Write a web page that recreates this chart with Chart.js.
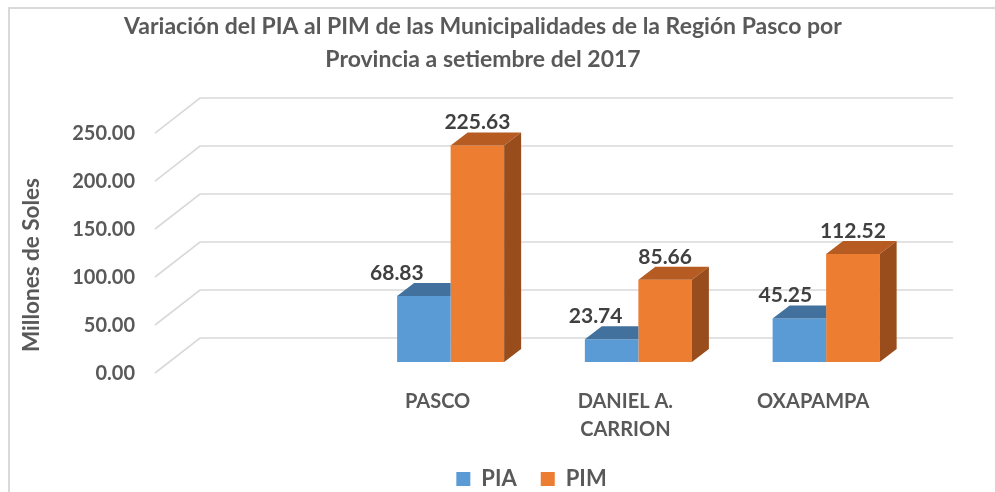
<!DOCTYPE html>
<html>
<head>
<meta charset="utf-8">
<script src="https://cdn.jsdelivr.net/npm/chart.js@4.4.1/dist/chart.umd.min.js"></script>
<style>
  html, body { margin: 0; padding: 0; background: #fff; }
  #wrap { width: 995px; height: 492px; }
</style>
</head>
<body>
<div id="wrap"><canvas id="chart" width="995" height="492"></canvas></div>
<script>
// data (first category is empty in the original sheet)
const categories = ['', 'PASCO', ['DANIEL A.', 'CARRION'], 'OXAPAMPA'];
const piaValues = [null, 68.83, 23.74, 45.25];
const pimValues = [null, 225.63, 85.66, 112.52];
const yTicks = [0, 50, 100, 150, 200, 250];
const titleLines = ['Variación del PIA al PIM de las Municipalidades de la Región Pasco por', 'Provincia a setiembre del 2017'];
const yTitle = 'Millones de Soles';

const FONT = 'Lato, "Open Sans", sans-serif';
const TEXT = '#595959';

// fake 3D offsets, relative to the plane the bars stand in
const floorFront = {dx: -14, dy: 11};
const floorBack = {dx: 31, dy: -24};
const barDepth = {dx: 17, dy: -13};
// Excel nudged the PIA labels left so they clear the PIM bars
const piaLabelShift = [0, -27, -16, -14];
const legendShift = -13;

const scene3d = {
  id: 'scene3d',
  beforeDraw(chart) {
    const ctx = chart.ctx;
    ctx.save();
    ctx.fillStyle = '#fff';
    ctx.fillRect(0, 0, chart.width, chart.height);
    ctx.strokeStyle = '#d9d9d9';
    ctx.lineWidth = 2;
    ctx.strokeRect(9, 8, chart.width + 20, chart.height + 20);
    ctx.restore();
  },
  afterLayout(chart) {
    // legend sits a bit left of the plot centre in the original
    chart.legend.left += legendShift;
    chart.legend.right += legendShift;
  },
  beforeDatasetsDraw(chart) {
    const {ctx, chartArea: a, scales: {y}} = chart;
    ctx.save();
    ctx.strokeStyle = '#d9d9d9';
    ctx.lineWidth = 1.6;
    y.ticks.forEach(t => {
      const py = y.getPixelForValue(t.value);
      ctx.beginPath();
      ctx.moveTo(a.left + floorFront.dx, py + floorFront.dy);
      ctx.lineTo(a.left + floorBack.dx, py + floorBack.dy);
      ctx.lineTo(a.right + floorBack.dx + 2, py + floorBack.dy);
      ctx.stroke();
    });
    // axis title
    ctx.fillStyle = TEXT;
    ctx.font = 'bold 22.5px ' + FONT;
    ctx.textAlign = 'center';
    ctx.textBaseline = 'middle';
    ctx.translate(32, 265);
    ctx.rotate(-Math.PI / 2);
    ctx.fillText(yTitle, 0, 0);
    ctx.restore();
  },
  afterDatasetDraw(chart, args) {
    const datasets = chart.data.datasets;
    const ds = datasets[args.index];
    const next = datasets[args.index + 1];
    const ctx = chart.ctx;
    args.meta.data.forEach((bar, i) => {
      if (ds.data[i] == null) return;
      const {x, y, base, width} = bar.getProps(['x', 'y', 'base', 'width'], true);
      const l = x - width / 2, r = x + width / 2;
      // the taller bar standing right next to it hides the depth part
      const hidden = next && next.data[i] != null && next.data[i] >= ds.data[i];
      ctx.save();
      if (hidden) {
        ctx.beginPath();
        ctx.rect(l - 1, 0, width + 1, chart.height);
        ctx.clip();
      }
      ctx.fillStyle = ds.topColor;
      ctx.beginPath();
      ctx.moveTo(l, y);
      ctx.lineTo(l + barDepth.dx, y + barDepth.dy);
      ctx.lineTo(r + barDepth.dx, y + barDepth.dy);
      ctx.lineTo(r, y);
      ctx.closePath();
      ctx.fill();
      if (!hidden) {
        ctx.fillStyle = ds.sideColor;
        ctx.beginPath();
        ctx.moveTo(r, y);
        ctx.lineTo(r + barDepth.dx, y + barDepth.dy);
        ctx.lineTo(r + barDepth.dx, base + barDepth.dy);
        ctx.lineTo(r, base);
        ctx.closePath();
        ctx.fill();
      }
      ctx.restore();
    });
  },
  afterDatasetsDraw(chart) {
    const ctx = chart.ctx;
    ctx.save();
    ctx.fillStyle = '#404040';
    ctx.font = 'bold 21px ' + FONT;
    ctx.textAlign = 'center';
    ctx.textBaseline = 'middle';
    chart.data.datasets.forEach((ds, di) => {
      chart.getDatasetMeta(di).data.forEach((bar, i) => {
        const v = ds.data[i];
        if (v == null) return;
        const shift = di === 0 ? piaLabelShift[i] : 0;
        ctx.fillText(v.toFixed(2), bar.x + shift, bar.y + barDepth.dy - 10);
      });
    });
    ctx.restore();
  }
};

new Chart(document.getElementById('chart'), {
  type: 'bar',
  data: {
    labels: categories,
    datasets: [
      {label: 'PIA', data: piaValues, backgroundColor: '#5B9BD5', topColor: '#41719C', sideColor: '#3A6690'},
      {label: 'PIM', data: pimValues, backgroundColor: '#ED7D31', topColor: '#B65C22', sideColor: '#9A4D1C'}
    ]
  },
  options: {
    responsive: false,
    animation: false,
    devicePixelRatio: 1,
    layout: {padding: {left: 46, right: 75, top: 0, bottom: -8}},
    datasets: {bar: {categoryPercentage: 0.57, barPercentage: 1, borderWidth: 0}},
    scales: {
      x: {
        grid: {display: false, drawTicks: false},
        border: {display: false},
        ticks: {
          padding: 26, labelOffset: -13, maxRotation: 0, autoSkip: false,
          color: TEXT, font: {family: FONT, size: 20, weight: 'bold', lineHeight: 1.4}
        },
        afterFit: s => { s.height = 82; }
      },
      y: {
        min: yTicks[0],
        max: yTicks[yTicks.length - 1],
        grid: {display: false, drawTicks: false},
        border: {display: false},
        ticks: {
          stepSize: yTicks[1] - yTicks[0], padding: 34, labelOffset: 12,
          color: TEXT, font: {family: FONT, size: 20, weight: 'bold'},
          callback: v => Number(v).toFixed(2)
        },
        afterFit: s => { s.width = 123; }
      }
    },
    plugins: {
      title: {
        display: true, text: titleLines, color: TEXT,
        font: {family: FONT, size: 23, weight: 'bold', lineHeight: 1.435},
        padding: {top: 10.5, bottom: 45.5}
      },
      legend: {
        position: 'bottom', fullSize: false,
        labels: {
          boxWidth: 14, boxHeight: 14, padding: 24, color: TEXT,
          font: {family: FONT, size: 22, weight: 'bold'}
        }
      },
      tooltip: {enabled: false}
    }
  },
  plugins: [scene3d]
});
</script>
</body>
</html>
